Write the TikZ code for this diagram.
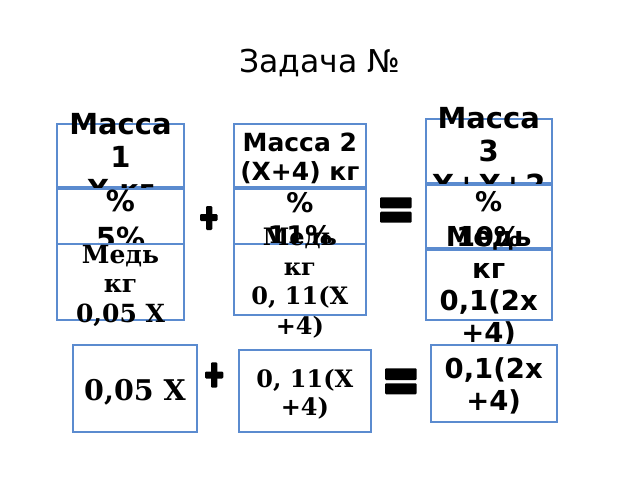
\documentclass[tikz,border=0pt]{standalone}
\usepackage{fontspec}
\newfontfamily\dsans{DejaVu Sans}
\newfontfamily\dserif{DejaVu Serif}
\definecolor{boxblue}{RGB}{91,139,207}
\tikzset{
  panel/.style={draw=boxblue, line width=1.5pt, fill=white, inner sep=0pt, rectangle},
  txt/.style={inner sep=0pt, align=center, anchor=north},
  opbar/.style={fill=black, rounded corners=0.8pt},
}
\newcommand\fsz[2]{\fontsize{#1}{#2}\selectfont}
\begin{document}
\begin{tikzpicture}[x=0.75pt,y=-0.75pt]
\useasboundingbox (0,0) rectangle (640,480);
\node[anchor=base, inner sep=0pt, font=\dsans\fsz{23.6}{28}] (title) at (320,72) {Задача №};
% column A
\node[panel, minimum width=95.25pt, minimum height=47.25pt] (a1) at (120.5,155.5) {};
\node[txt, font=\dsans\bfseries\fsz{21.75}{24.75}] (a1t) at (120.5,110.9) {\strut Масса\\\strut 1\\\strut Х кг};
\node[panel, minimum width=95.25pt, minimum height=41.25pt] (a2) at (120.5,216.5) {};
\node[txt, font=\dsans\bfseries\fsz{21.75}{27.75}] (a2t) at (120.5,185.8) {\strut \%\\\strut 5\%};
\node[panel, minimum width=95.25pt, minimum height=57pt] (a3) at (120.5,282) {};
\node[txt, font=\dserif\bfseries\fsz{18.75}{22}] (a3t) at (120.5,242.8) {\strut Медь\\\strut кг\\\strut 0,05 Х};
% column B
\node[panel, minimum width=98.8pt, minimum height=47.5pt] (b1) at (299.85,155.65) {};
\node[txt, font=\dsans\bfseries\fsz{18.75}{21.4}] (b1t) at (299.85,131.75) {\strut Масса 2\\\strut (Х+4) кг};
\node[panel, minimum width=98.8pt, minimum height=41.7pt] (b2) at (299.85,216.5) {};
\node[txt, font=\dsans\bfseries\fsz{20.25}{25}] (b2t) at (299.85,188.4) {\strut \%\\\strut 11\%};
\node[panel, minimum width=98.8pt, minimum height=53pt] (b3) at (299.85,279.65) {};
\node[txt, font=\dserif\bfseries\fsz{18}{22.3}] (b3t) at (299.85,224.2) {\strut Медь\\\strut кг\\\strut 0, 11(Х\\\strut +4)};
% column C
\node[panel, minimum width=94.5pt, minimum height=48pt] (c1) at (488.7,151) {};
\node[txt, font=\dsans\bfseries\fsz{21.75}{25}] (c1t) at (488.7,104.9) {\strut Масса\\\strut 3\\\strut Х+Х+2};
\node[panel, minimum width=94.5pt, minimum height=47.25pt] (c2) at (488.7,216) {};
\node[txt, font=\dsans\bfseries\fsz{20.25}{26.25}] (c2t) at (488.7,187.2) {\strut \%\\\strut 10\%};
\node[panel, minimum width=94.5pt, minimum height=52.7pt] (c3) at (488.7,284.85) {};
\node[txt, font=\dsans\bfseries\fsz{20.6}{23.8}] (c3t) at (488.7,224.5) {\strut Медь\\\strut кг\\\strut 0,1(2х\\\strut +4)};
% bottom row
\node[panel, minimum width=93.45pt, minimum height=65pt] (d1) at (135,388.35) {};
\node[txt, font=\dserif\bfseries\fsz{21.4}{25.6}] (d1t) at (135,376.1) {\strut 0,05 Х};
\node[panel, minimum width=98.8pt, minimum height=61pt] (d2) at (304.85,391) {};
\node[txt, font=\dserif\bfseries\fsz{18}{20.6}] (d2t) at (304.85,368.45) {\strut 0, 11(Х\\\strut +4)};
\node[panel, minimum width=94.5pt, minimum height=57.5pt] (d3) at (493.7,383.35) {};
\node[txt, font=\dsans\bfseries\fsz{20.6}{23.8}] (d3t) at (493.7,356.1) {\strut 0,1(2х\\\strut +4)};
% operators
\fill[opbar] (206,206) rectangle (212.3,230);
\fill[opbar] (200,214) rectangle (217.5,221);
\fill[opbar] (211,362.3) rectangle (217.3,387.7);
\fill[opbar] (205,371.5) rectangle (223.3,378.5);
\fill[opbar] (380,197.3) rectangle (411.7,208.3);
\fill[opbar] (380,211.7) rectangle (411.7,222.7);
\fill[opbar] (385,368.3) rectangle (416.7,380);
\fill[opbar] (385,383.3) rectangle (416.7,394.3);
\end{tikzpicture}
\end{document}
